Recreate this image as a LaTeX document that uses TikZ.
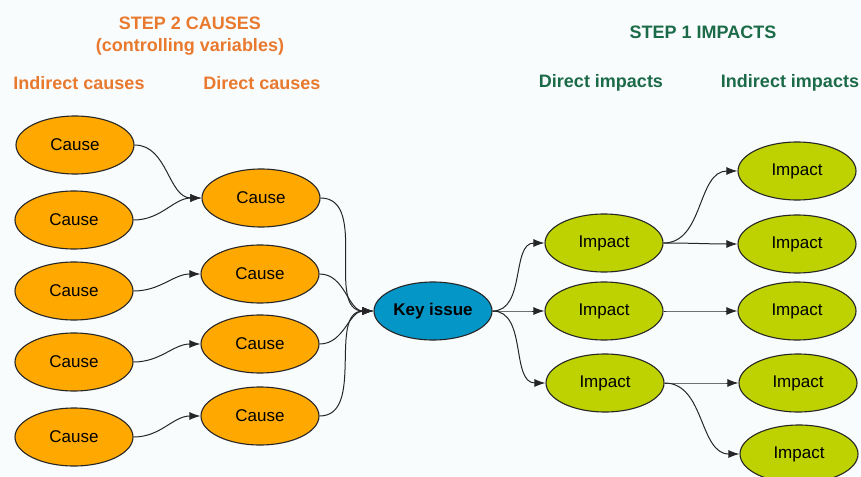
\documentclass[tikz,border=0pt]{standalone}
\usepackage{fontspec}
\setmainfont{Liberation Sans}
\usetikzlibrary{shapes.geometric,arrows.meta}
\definecolor{bgc}{HTML}{F9FCFD}
\definecolor{causeor}{HTML}{FFA800}
\definecolor{keyblue}{HTML}{0596C8}
\definecolor{impgreen}{HTML}{BDD200}
\definecolor{heador}{HTML}{E8792E}
\definecolor{headgr}{HTML}{1B6A48}
\tikzset{
  blob/.style={ellipse, draw=black!85, line width=1.1pt, minimum width=118pt, minimum height=58pt, inner sep=0pt, font=\fontsize{17}{18}\selectfont},
  causenode/.style={blob, fill=causeor},
  keynode/.style={blob, fill=keyblue, font=\fontsize{17}{18}\selectfont\bfseries},
  impnode/.style={blob, fill=impgreen},
  headO/.style={text=heador, font=\fontsize{18}{22}\selectfont\bfseries, align=center},
  headG/.style={text=headgr, font=\fontsize{18}{22}\selectfont\bfseries, align=center},
  link/.style={draw=black!85, line width=1pt, -{Latex[length=11pt,width=8pt]}, out=0, in=180},
}
\begin{document}
\begin{tikzpicture}[x=1pt,y=-1pt]
\useasboundingbox (0,0) rectangle (861,476);
\fill[bgc] (0,0) rectangle (861,476);
% headings
\node[headO] (h2a) at (190,23) {STEP 2 CAUSES};
\node[headO] (h2b) at (190,47) {(controlling variables)};
\node[headO] (hic) at (79,83) {Indirect causes};
\node[headO] (hdc) at (262,83) {Direct causes};
\node[headG] (h1) at (703,32) {STEP 1 IMPACTS};
\node[headG] (hdi) at (601,83) {Direct impacts};
\node[headG] (hii) at (790,83) {Indirect impacts};
% indirect causes
\node[causenode] (c1) at (75,145) {Cause};
\node[causenode] (c2) at (74,220) {Cause};
\node[causenode] (c3) at (74,291) {Cause};
\node[causenode] (c4) at (74,362) {Cause};
\node[causenode] (c5) at (74,437) {Cause};
% direct causes
\node[causenode] (d1) at (261,198) {Cause};
\node[causenode] (d2) at (260,274) {Cause};
\node[causenode] (d3) at (260,344) {Cause};
\node[causenode] (d4) at (260,416) {Cause};
% key issue
\node[keynode] (k) at (433,311) {Key issue};
% direct impacts
\node[impnode] (i1) at (604,243) {Impact};
\node[impnode] (i2) at (604,311) {Impact};
\node[impnode] (i3) at (605,383) {Impact};
% indirect impacts
\node[impnode] (j1) at (797,171) {Impact};
\node[impnode] (j2) at (797,244) {Impact};
\node[impnode] (j3) at (797,311) {Impact};
\node[impnode] (j4) at (798,383) {Impact};
\node[impnode] (j5) at (799,454) {Impact};
% links
\draw[link] (c1.east) to (d1.west);
\draw[link] (c2.east) to (d1.west);
\draw[link] (c3.east) to (d2.west);
\draw[link] (c4.east) to (d3.west);
\draw[link] (c5.east) to (d4.west);
\draw[link] (d1.east) to (k.west);
\draw[link] (d2.east) to (k.west);
\draw[link] (d3.east) to (k.west);
\draw[link] (d4.east) to (k.west);
\draw[link] (k.east) to (i1.west);
\draw[link] (k.east) to (i2.west);
\draw[link] (k.east) to (i3.west);
\draw[link] (i1.east) to (j1.west);
\draw[link] (i1.east) to (j2.west);
\draw[link] (i2.east) to (j3.west);
\draw[link] (i3.east) to (j4.west);
\draw[link] (i3.east) to (j5.west);
\end{tikzpicture}
\end{document}
